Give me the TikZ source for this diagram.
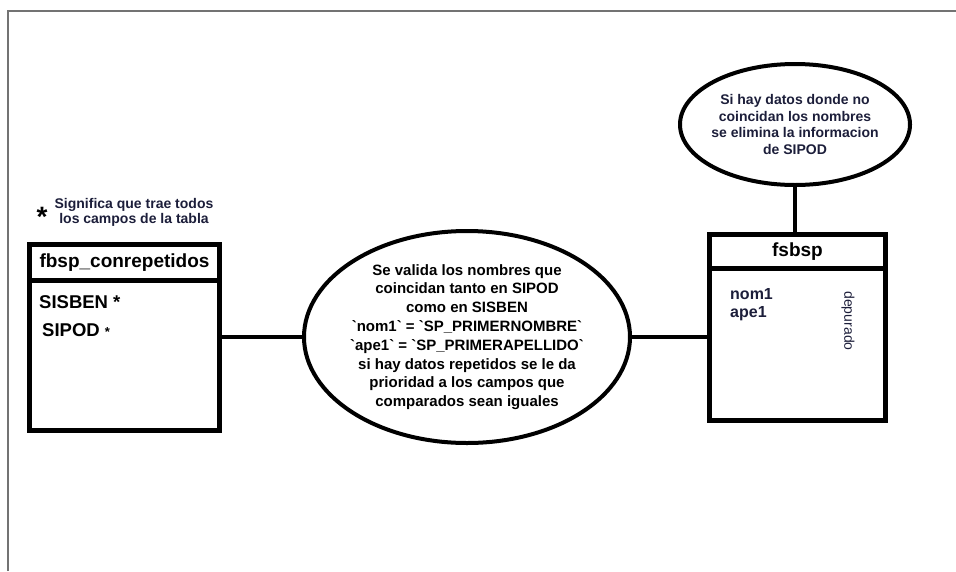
\documentclass[tikz,border=0pt]{standalone}
\usepackage{fontspec}
\setmainfont{Liberation Sans}
\usetikzlibrary{shapes.geometric}
\definecolor{tinta}{RGB}{28,30,58}
\definecolor{marco}{RGB}{115,115,115}
\newcommand{\tick}{\textasciigrave}

\begin{document}
\begin{tikzpicture}[x=1pt,y=-1pt,
  tabla/.style={draw,rectangle,line width=5pt,inner sep=0pt,font=\fontsize{19}{20}\bfseries},
  proc/.style={draw,ellipse,line width=4pt,inner sep=0pt},
  nota/.style={align=center,inner sep=0pt},
  campo/.style={anchor=west,inner sep=0pt,font=\fontsize{18.5}{20}\bfseries},
  conn/.style={line width=4pt}]

\useasboundingbox (0,0) rectangle (956,571);
\draw[marco,line width=1.5pt] (8,571) -- (8,11) -- (956,11);

% leyenda
\node[inner sep=0pt,font=\fontsize{28}{28}\bfseries] (ast) at (42,217) {*};
\node[nota,text=tinta,font=\fontsize{14}{15}\bfseries] (leyenda) at (134,212) {Significa que trae todos\\los campos de la tabla};

% tabla izquierda
\node[tabla,minimum width=190pt,minimum height=35.5pt] (lhead) at (124.5,262.25) {fbsp\_conrepetidos};
\node[tabla,minimum width=190pt,minimum height=150.5pt] (lbody) at (124.5,355.25) {};
\node[campo] (sisben) at (39,302) {SISBEN *};
\node[campo] (sipod) at (42,330) {SIPOD {\fontsize{13}{13}\selectfont*}};

% proceso central
\node[proc,minimum width=326pt,minimum height=212pt] (valida) at (467,337) {};
\node[nota,font=\fontsize{15}{18.8}\bfseries] at (valida) {Se valida los nombres que\\coincidan tanto en SIPOD\\como en SISBEN\\\tick nom1\tick{} = \tick SP\_PRIMERNOMBRE\tick\\\tick ape1\tick{} = \tick SP\_PRIMERAPELLIDO\tick\\si hay datos repetidos se le da\\prioridad a los campos que\\comparados sean iguales};

% tabla derecha
\node[tabla,minimum width=176pt,minimum height=33.5pt] (rhead) at (797.5,251.25) {fsbsp};
\node[tabla,minimum width=176pt,minimum height=152.5pt] (rbody) at (797.5,344.25) {};
\node[campo,align=left,text=tinta,font=\fontsize{16}{18}\bfseries] (campos) at (730,305) {nom1\\ape1};
\node[inner sep=0pt,rotate=-90,text=tinta,font=\fontsize{14}{14}\selectfont] (depurado) at (848,321) {depurado};

% proceso superior
\node[proc,minimum width=230pt,minimum height=121pt] (elimina) at (795,124.5) {};
\node[nota,text=tinta,font=\fontsize{14}{16.5}\bfseries] at (elimina) {Si hay datos donde no\\coincidan los nombres\\se elimina la informacion\\de SIPOD};

% conectores
\draw[conn] (valida.west) -- (valida.west -| lbody.east);
\draw[conn] (valida.east) -- (valida.east -| rbody.west);
\draw[conn] (elimina.south) -- (elimina.south |- rhead.north);

\end{tikzpicture}
\end{document}
